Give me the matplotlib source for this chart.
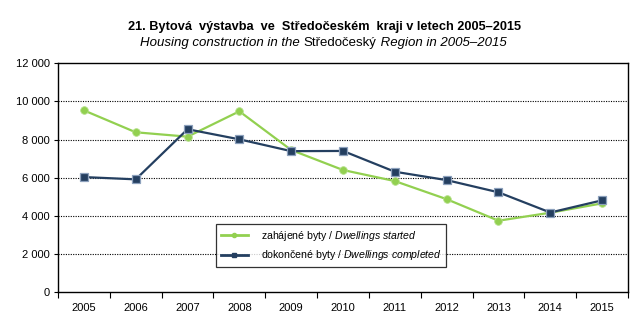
import numpy as np
import matplotlib
matplotlib.use('Agg')
import matplotlib.pyplot as plt
from matplotlib.lines import Line2D

plt.rcParams['font.family'] = ['Liberation Sans', 'DejaVu Sans']
plt.rcParams['mathtext.fontset'] = 'custom'
plt.rcParams['mathtext.it'] = 'Liberation Sans:italic'
plt.rcParams['mathtext.rm'] = 'Liberation Sans'

# -----------------------------------------------------------------------------
# Data
# -----------------------------------------------------------------------------
years = ['2005', '2006', '2007', '2008', '2009', '2010',
         '2011', '2012', '2013', '2014', '2015']
started = [9530, 8380, 8150, 9480, 7450, 6400, 5820, 4870, 3740, 4160, 4650]
completed = [6030, 5910, 8540, 8010, 7390, 7400, 6310, 5870, 5230, 4170, 4810]
y_ticks = [0, 2000, 4000, 6000, 8000, 10000, 12000]
y_labels = ['0', '2 000', '4 000', '6 000', '8 000', '10 000', '12 000']

GREEN = '#92D050'
NAVY = '#243F60'

fig = plt.figure(figsize=(6.43, 3.30), dpi=100)
ax = fig.add_axes([0.0902, 0.1152, 0.8865, 0.693])

x = np.arange(len(years))
ax.plot(x, started, color=GREEN, lw=1.6, marker='o', ms=5.5,
        mfc=GREEN, mec='#B5E08A', mew=0.6, zorder=3)
ax.plot(x, completed, color=NAVY, lw=1.6, marker='s', ms=5.5,
        mfc=NAVY, mec='#8CA0BC', mew=0.9, zorder=4)

ax.set_xlim(-0.5, len(years) - 0.5)
ax.set_ylim(0, 12000)
ax.set_xticks(x)
ax.set_xticklabels(years, fontsize=8)
ax.set_xticks(np.arange(-0.5, len(years)), minor=True)
ax.tick_params(axis='x', which='major', length=0, pad=8)
ax.tick_params(axis='x', which='minor', length=4, width=0.8, direction='out')
ax.set_yticks(y_ticks)
ax.set_yticklabels(y_labels, fontsize=8)
ax.tick_params(axis='y', length=3, width=0.8, direction='out', pad=3)

for v in y_ticks[1:-1]:
    ax.axhline(v, color='black', lw=0.8, ls=(0, (1, 1.2)), zorder=1)

for s in ax.spines.values():
    s.set_linewidth(1.0)
    s.set_color('black')

handles = [
    Line2D([], [], color=GREEN, lw=2, marker='o', ms=3, mfc=GREEN, mec=GREEN),
    Line2D([], [], color=NAVY, lw=2, marker='s', ms=3, mfc=NAVY, mec=NAVY),
]
labels = [r'zahájené byty / $\it{Dwellings\ started}$',
          r'dokončené byty / $\it{Dwellings\ completed}$']
leg = ax.legend(handles, labels, loc='lower left',
                bbox_to_anchor=(0.277, 0.109), borderaxespad=0,
                fontsize=7.6, frameon=True, fancybox=False, edgecolor='black',
                handlelength=2.6, handletextpad=1.2, borderpad=0.45,
                labelspacing=0.5)
leg.get_frame().set_linewidth(0.9)

fig.text(0.504, 0.918, '21. Bytová  výstavba  ve  Středočeském  kraji v letech 2005–2015',
         ha='center', va='center', fontsize=9.2, fontweight='bold')

# subtitle: mixed italic / upright pieces laid out left to right
parts = [('Housing construction in the ', 'italic'),
         ('Středočeský', 'normal'),
         (' Region in 2005–2015', 'italic')]
texts = [fig.text(0, 0.870, p, style=st, fontsize=9.5, va='center', ha='left')
         for p, st in parts]
renderer = fig.canvas.get_renderer()
widths = [t.get_window_extent(renderer).width for t in texts]
x0 = (323.5 - sum(widths) / 2) / fig.bbox.width
for t, w in zip(texts, widths):
    t.set_x(x0)
    x0 += w / fig.bbox.width

fig.savefig('out.png', dpi=100)
